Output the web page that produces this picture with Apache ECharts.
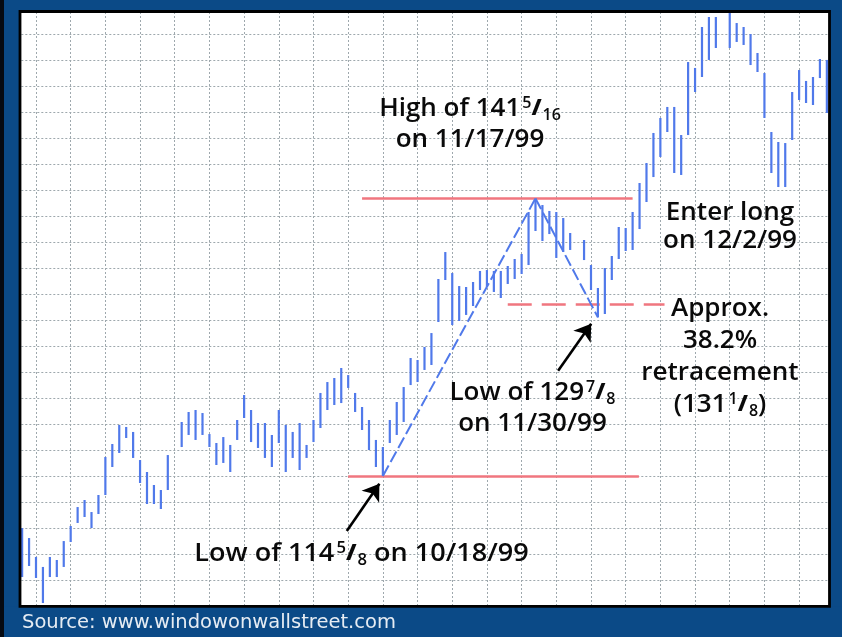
<!DOCTYPE html>
<html><head><meta charset="utf-8">
<script src="https://cdn.jsdelivr.net/npm/echarts@6/dist/echarts.min.js"></script>
<style>html,body{margin:0;padding:0;background:#0b4a87;}#c{width:842px;height:637px;}</style>
</head><body><div id="c"></div>
<script>
// Daily bars, one slot per weekday. Slot 0 = Mon 8/9/99 (grid lines fall on Mondays).
// null = market holiday (Labor Day, Thanksgiving, Christmas Eve).
const firstSlot = -2; // Thu 8/5/99
const highs = [109.62,108.66,106.84,105.88,106.84,106.55,108.37,109.82,111.64,112.32,
  111.16,112.80,116.45,117.70,119.53,119.34,118.86,116.16,115.01,113.76,
  113.28,116.64,null,119.82,120.78,120.97,120.68,118.66,117.80,118.37,
  117.61,120.01,122.41,120.97,119.72,119.72,118.57,120.97,119.53,118.86,
  119.72,117.61,120.01,122.61,123.66,124.05,125.01,124.33,122.61,121.26,
  120.01,118.09,117.41,120.01,121.74,123.18,125.97,125.78,127.03,128.37,
  133.57,136.16,134.14,132.89,132.80,133.28,134.34,134.43,134.34,134.34,
  134.82,135.49,135.97,140.01,141.31,140.68,140.11,140.01,139.43,137.99,
  null,137.32,134.91,132.70,134.62,135.78,138.57,138.47,140.01,142.80,
  144.72,147.61,149.05,150.11,150.11,147.41,154.43,153.86,157.80,158.76,
  158.76,null,159.20,158.18,157.80,157.12,155.30,153.37,147.70,146.74,
  146.64,151.55,153.66,152.61,152.99,154.72,154.63];
const lows = [104.91,105.97,104.82,102.41,104.91,104.91,105.88,108.28,110.11,110.68,
  109.62,110.97,112.80,115.49,116.84,118.28,116.36,113.95,111.93,111.93,
  111.45,113.28,null,117.41,118.57,118.09,118.57,117.41,115.68,115.88,
  115.01,118.09,120.20,117.89,117.32,116.36,115.49,117.80,115.01,116.36,
  115.20,116.36,117.89,119.24,120.97,121.45,121.64,123.09,120.78,119.05,
  117.12,115.49,114.63,117.80,118.57,119.82,123.37,123.66,124.82,125.30,
  129.43,133.47,129.14,129.53,130.11,130.97,132.51,132.80,132.32,131.74,
  133.09,133.57,134.05,134.91,138.18,137.22,137.89,135.59,136.16,136.36,
  null,135.39,132.51,129.88,130.20,133.47,135.49,136.26,136.36,138.37,
  140.97,143.37,145.30,147.70,143.76,143.57,147.41,151.55,152.99,154.63,
  155.78,null,155.78,156.36,156.07,154.14,153.47,149.05,143.76,142.41,
  142.41,146.93,150.78,150.49,150.30,152.89,149.53];

// Key levels (price) and the slots they span
const highPrice = 141.3125, lowPrice = 114.625, low2Price = 129.875, retracePrice = 131.125;
const highSlot = 72, lowSlot = 50, low2Slot = 81;
const levelLines = [
  {price: highPrice, from: 47, to: 86, dashed: false},
  {price: lowPrice, from: 45, to: 86.9, dashed: false},
  {price: retracePrice, from: 68, to: 90.6, dashed: true}
];
const trendLines = [
  [[lowSlot, lowPrice], [highSlot, highPrice]],
  [[highSlot, highPrice], [low2Slot, low2Price]]
];
const arrows = [
  [[44.8, 109.33], [49.5, 113.89]],
  [[75.26, 124.75], [80.03, 129.26]]
];

const bars = [];
highs.forEach((h, i) => { if (h != null) bars.push([firstSlot + i, lows[i], h]); });

const BLUE = '#0b4a87';
const BAR = '#5079ea';
const F = '"Open Sans", "Noto Sans", sans-serif';
const INK = '#0a0a0a';
function rich(L) {
  const s = 16;
  return {
    n: {fontFamily: F, fontSize: 26, fontWeight: 600, lineHeight: L, fill: INK},
    sup: {fontFamily: F, fontSize: s, fontWeight: 600, lineHeight: s, verticalAlign: 'top',
      padding: [Math.max(0, L/2 - 7.5 - 0.354 * s), 0, 0, 2], fill: INK},
    sl: {fontFamily: F, fontSize: 23, fontWeight: 800, lineHeight: L, padding: [0, 1, 0, 0], fill: INK},
    sub: {fontFamily: F, fontSize: s, fontWeight: 600, lineHeight: s, verticalAlign: 'bottom',
      padding: [0, 0, Math.max(0, L/2 - 10.1 - 0.292 * s), 0], fill: INK}
  };
}
function ann(x, y, text, L, sx) {
  return {type: 'text', x: x, y: y, z: 60, scaleX: sx || 1,
    style: {text: text, rich: rich(L), align: 'center', verticalAlign: 'top', fill: INK}};
}

const chart = echarts.init(document.getElementById('c'), null, {renderer: 'canvas'});
const gridLine = {show: true, lineStyle: {color: '#9ea8ad', type: [2, 2], width: 1}};
chart.setOption({
  animation: false,
  backgroundColor: BLUE,
  grid: {left: 1.31, right: 8.2, top: 12, bottom: 31, show: true, backgroundColor: '#ffffff', borderWidth: 0},
  xAxis: [{type: 'value', min: -5, max: 115, interval: 5,
    axisLine: {show: false}, axisTick: {show: false}, axisLabel: {show: false}, splitLine: gridLine}],
  yAxis: [
    {type: 'value', min: 102.125, max: 159.2404,
      axisLine: {show: false}, axisTick: {show: false}, axisLabel: {show: false}, splitLine: {show: false}},
    {type: 'value', min: 0, max: 22.846, interval: 1,
      axisLine: {show: false}, axisTick: {show: false}, axisLabel: {show: false}, splitLine: gridLine}
  ],
  series: [
    {type: 'lines', coordinateSystem: 'cartesian2d', z: 2, silent: true,
      data: levelLines.map(l => ({coords: [[l.from, l.price], [l.to, l.price]],
        lineStyle: {type: l.dashed ? [24, 10] : 'solid'}})),
      lineStyle: {color: '#f0767f', width: 2.5, opacity: 1}},
    {type: 'custom', z: 3, clip: true, data: bars,
      encode: {x: 0, y: [1, 2]},
      renderItem: function (params, api) {
        const x = api.value(0);
        const a = api.coord([x, api.value(1)]);
        const b = api.coord([x, api.value(2)]);
        return {type: 'line', shape: {x1: a[0], y1: a[1], x2: b[0], y2: b[1]},
          style: {stroke: BAR, lineWidth: 2.2}};
      }},
    {type: 'lines', coordinateSystem: 'cartesian2d', z: 4, silent: true,
      data: trendLines.map(c => ({coords: c})),
      lineStyle: {color: BAR, width: 2, type: [12, 4], opacity: 1}},
    {type: 'lines', coordinateSystem: 'cartesian2d', z: 5, silent: true,
      symbol: ['none', 'arrow'], symbolSize: 16,
      data: arrows.map(c => ({coords: c})),
      lineStyle: {color: '#000', width: 2.6, opacity: 1}}
  ],
  graphic: [
    ann(470, 93, '{n|High of 141}{sup|5}{sl|/}{sub|16}\n{n|on 11/17/99}', 31),
    ann(730, 199, '{n|Enter long}\n{n|on 12/2/99}', 28),
    ann(720, 292.5, '{n|Approx.}\n{n|38.2%}\n{n|retracement}\n{n|(131}{sup|1}{sl|/}{sub|8}{n|)}', 32),
    ann(532.5, 377, '{n|Low of 129}{sup|7}{sl|/}{sub|8}\n{n|on 11/30/99}', 31),
    ann(361.5, 538, '{n|Low of 114}{sup|5}{sl|/}{sub|8}{n| on 10/18/99}', 31, 1.04),
    {type: 'rect', z: 100, shape: {x: 0, y: 0, width: 20, height: 637}, style: {fill: BLUE}},
    {type: 'rect', z: 100, shape: {x: 829.5, y: 0, width: 12.5, height: 637}, style: {fill: BLUE}},
    {type: 'rect', z: 100, shape: {x: 0, y: 0, width: 842, height: 11.5}, style: {fill: BLUE}},
    {type: 'rect', z: 100, shape: {x: 0, y: 606.3, width: 842, height: 30.7}, style: {fill: BLUE}},
    {type: 'rect', z: 101, shape: {x: 0, y: 0, width: 4, height: 637}, style: {fill: '#060a12'}},
    {type: 'rect', z: 101, shape: {x: 20, y: 11.5, width: 809.5, height: 594.8},
      style: {fill: null, stroke: '#000', lineWidth: 2.8}},
    {type: 'text', z: 102, x: 22, y: 613,
      style: {text: 'Source: www.windowonwallstreet.com', fontFamily: '"DejaVu Sans", sans-serif',
        fontSize: 19.5, fill: '#e6ecf3', align: 'left', verticalAlign: 'top'}}
  ]
});
</script>
</body></html>
